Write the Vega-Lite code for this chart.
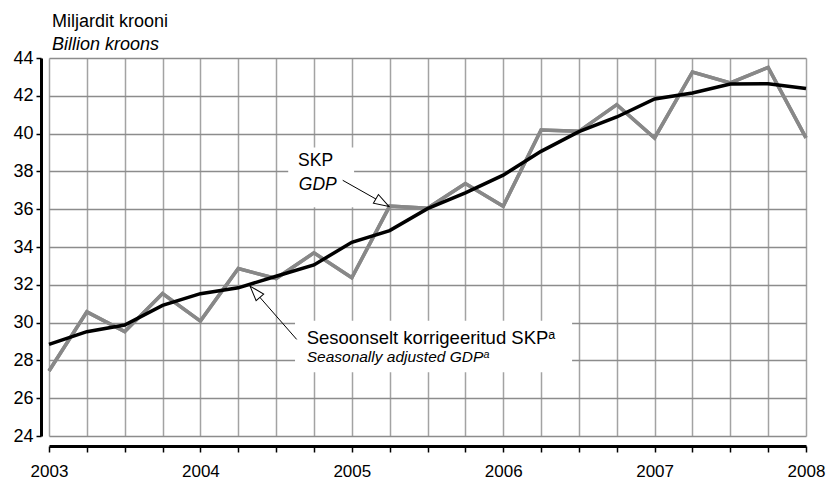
{
  "$schema": "https://vega.github.io/schema/vega-lite/v6.json",
  "width": 757,
  "height": 378,
  "autosize": {"type": "none"},
  "padding": {"left": 49, "top": 58, "right": 23, "bottom": 46},
  "background": "white",
  "title": {
    "text": "Miljardit krooni",
    "subtitle": "Billion kroons",
    "anchor": "start",
    "frame": "group",
    "font": "Liberation Sans",
    "fontSize": 18,
    "fontWeight": "normal",
    "color": "black",
    "subtitleFont": "Liberation Sans",
    "subtitleFontSize": 18,
    "subtitleFontStyle": "italic",
    "subtitleColor": "black",
    "subtitlePadding": 5,
    "offset": -5,
    "dx": 3
  },
  "config": {
    "view": {"stroke": null},
    "font": "Liberation Sans",
    "axis": {"labelFont": "Liberation Sans", "labelColor": "black"}
  },
  "datasets": {
    "gdp": [
      {"t": 2003.00, "gdp": 27.44, "sa": 28.85},
      {"t": 2003.25, "gdp": 30.57, "sa": 29.52},
      {"t": 2003.50, "gdp": 29.52, "sa": 29.87},
      {"t": 2003.75, "gdp": 31.54, "sa": 30.91},
      {"t": 2004.00, "gdp": 30.08, "sa": 31.53},
      {"t": 2004.25, "gdp": 32.86, "sa": 31.84},
      {"t": 2004.50, "gdp": 32.33, "sa": 32.45},
      {"t": 2004.75, "gdp": 33.69, "sa": 33.05},
      {"t": 2005.00, "gdp": 32.37, "sa": 34.25},
      {"t": 2005.25, "gdp": 36.16, "sa": 34.87},
      {"t": 2005.50, "gdp": 36.05, "sa": 36.03},
      {"t": 2005.75, "gdp": 37.36, "sa": 36.86},
      {"t": 2006.00, "gdp": 36.16, "sa": 37.80},
      {"t": 2006.25, "gdp": 40.19, "sa": 39.06},
      {"t": 2006.50, "gdp": 40.12, "sa": 40.10},
      {"t": 2006.75, "gdp": 41.53, "sa": 40.88},
      {"t": 2007.00, "gdp": 39.77, "sa": 41.83},
      {"t": 2007.25, "gdp": 43.26, "sa": 42.15},
      {"t": 2007.50, "gdp": 42.68, "sa": 42.62},
      {"t": 2007.75, "gdp": 43.50, "sa": 42.64},
      {"t": 2008.00, "gdp": 39.77, "sa": 42.39}
    ],
    "boxes": [
      {"x": 2004.58, "x2": 2005.015, "y": 39.26, "y2": 36.1},
      {"x": 2004.625, "x2": 2006.455, "y": 30.1, "y2": 27.37}
    ],
    "arrows": [
      {"x": 2004.94, "y": 37.53, "x2": 2005.245, "y2": 36.15, "angle": 120},
      {"x": 2004.636, "y": 29.11, "x2": 2004.328, "y2": 31.93, "angle": 319}
    ],
    "labelsNormal": [
      {"x": 2004.645, "y": 38.55, "text": "SKP", "size": 17.5},
      {"x": 2004.702, "y": 29.2, "text": "Sesoonselt korrigeeritud SKPᵃ", "size": 18.5}
    ],
    "labelsItalic": [
      {"x": 2004.65, "y": 37.3, "text": "GDP", "size": 17.5},
      {"x": 2004.702, "y": 28.2, "text": "Seasonally adjusted GDPᵃ", "size": 15.5}
    ]
  },
  "layer": [
    {
      "data": {"name": "gdp"},
      "mark": {"type": "line", "color": "#888888", "strokeWidth": 3.5, "strokeJoin": "miter"},
      "encoding": {
        "x": {
          "field": "t",
          "type": "quantitative",
          "scale": {"domain": [2003, 2008], "nice": false, "zero": false},
          "axis": {
            "title": null,
            "values": [2003, 2003.25, 2003.5, 2003.75, 2004, 2004.25, 2004.5, 2004.75, 2005, 2005.25, 2005.5, 2005.75, 2006, 2006.25, 2006.5, 2006.75, 2007, 2007.25, 2007.5, 2007.75, 2008],
            "tickCount": 40,
            "labelExpr": "datum.value % 1 == 0 ? '' + datum.value : ''",
            "labelFontSize": 17,
            "labelPadding": 11,
            "labelFlush": false,
            "labelOverlap": false,
            "domainColor": "black",
            "domainWidth": 3,
            "offset": 10,
            "tickColor": "black",
            "tickSize": 6,
            "tickWidth": 1.5,
            "grid": true,
            "gridColor": "#a3a3a3",
            "gridWidth": 1.5
          }
        },
        "y": {
          "field": "gdp",
          "type": "quantitative",
          "scale": {"domain": [24, 44], "nice": false, "zero": false},
          "axis": {
            "title": null,
            "values": [24, 26, 28, 30, 32, 34, 36, 38, 40, 42, 44],
            "tickCount": 40,
            "format": "d",
            "labelFontSize": 18,
            "labelPadding": 3,
            "labelOverlap": false,
            "domainColor": "black",
            "domainWidth": 3,
            "offset": 8,
            "tickColor": "black",
            "tickSize": 5,
            "tickWidth": 1.5,
            "grid": true,
            "gridColor": "#8c8c8c",
            "gridWidth": 1.3
          }
        }
      }
    },
    {
      "data": {"name": "boxes"},
      "mark": {"type": "rect", "fill": "white"},
      "encoding": {
        "x": {"field": "x", "type": "quantitative"},
        "x2": {"field": "x2"},
        "y": {"field": "y", "type": "quantitative"},
        "y2": {"field": "y2"}
      }
    },
    {
      "data": {"name": "gdp"},
      "mark": {"type": "line", "color": "#888888", "strokeWidth": 3.5, "strokeJoin": "miter"},
      "encoding": {
        "x": {"field": "t", "type": "quantitative"},
        "y": {"field": "gdp", "type": "quantitative"}
      }
    },
    {
      "data": {"name": "gdp"},
      "mark": {"type": "line", "color": "black", "strokeWidth": 3.5},
      "encoding": {
        "x": {"field": "t", "type": "quantitative"},
        "y": {"field": "sa", "type": "quantitative"}
      }
    },
    {
      "data": {"name": "arrows"},
      "mark": {"type": "rule", "color": "black", "strokeWidth": 1},
      "encoding": {
        "x": {"field": "x", "type": "quantitative"},
        "y": {"field": "y", "type": "quantitative"},
        "x2": {"field": "x2"},
        "y2": {"field": "y2"}
      }
    },
    {
      "data": {"name": "arrows"},
      "mark": {"type": "point", "shape": "M0,0L-0.667,2L0.667,2Z", "size": 225, "filled": true, "fill": "white", "stroke": "black", "strokeWidth": 1, "opacity": 1},
      "encoding": {
        "x": {"field": "x2", "type": "quantitative"},
        "y": {"field": "y2", "type": "quantitative"},
        "angle": {"field": "angle", "type": "quantitative", "scale": null}
      }
    },
    {
      "data": {"name": "labelsNormal"},
      "mark": {"type": "text", "align": "left", "baseline": "middle", "font": "Liberation Sans", "color": "black"},
      "encoding": {
        "x": {"field": "x", "type": "quantitative"},
        "y": {"field": "y", "type": "quantitative"},
        "text": {"field": "text"},
        "size": {"field": "size", "type": "quantitative", "scale": null}
      }
    },
    {
      "data": {"name": "labelsItalic"},
      "mark": {"type": "text", "align": "left", "baseline": "middle", "font": "Liberation Sans", "fontStyle": "italic", "color": "black"},
      "encoding": {
        "x": {"field": "x", "type": "quantitative"},
        "y": {"field": "y", "type": "quantitative"},
        "text": {"field": "text"},
        "size": {"field": "size", "type": "quantitative", "scale": null}
      }
    }
  ]
}
